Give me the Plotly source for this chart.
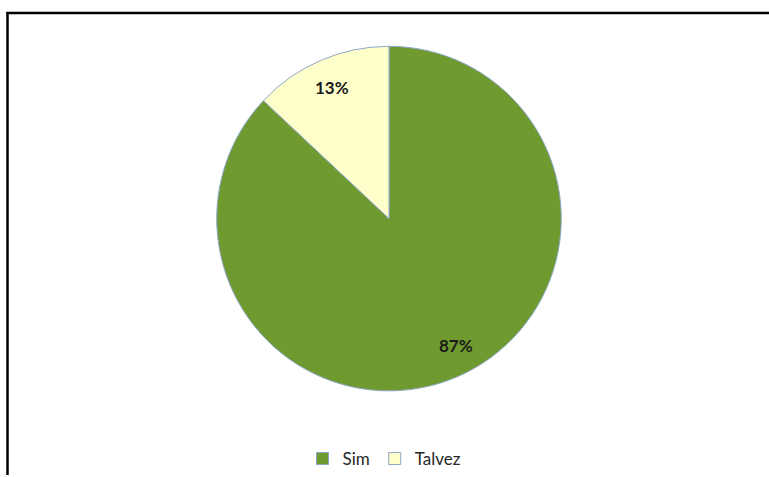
import math
import plotly.graph_objects as go

categories = ["Sim", "Talvez"]
values = [87, 13]
colors = ["#6E9A2F", "#FFFFCC"]

W, H = 769, 477
FONT = "Lato, Open Sans, sans-serif"

# pie geometry (pixels in the page)
cx, cy, R = 389, 219.5, 173

fig = go.Figure(go.Pie(
    labels=categories,
    values=values,
    sort=False,
    direction="clockwise",
    rotation=0,
    marker=dict(colors=colors, line=dict(color="#8EA7C8", width=1)),
    textinfo="none",
    domain=dict(x=[(cx - R) / W, (cx + R) / W], y=[1 - (cy + R) / H, 1 - (cy - R) / H]),
    hoverinfo="label+percent",
))

# percentage labels placed along each slice's mid-angle, as Excel does
total = sum(values)
annotations = []
start = 0.0
for v in values:
    mid = (start + v / 2) / total * 2 * math.pi
    start += v
    big = v / total > 0.5
    r = (0.80 if big else 0.83) * R
    px = cx + r * math.sin(mid) + (12 if big else 0)
    py = cy - r * math.cos(mid)
    annotations.append(dict(
        x=px / W, y=1 - py / H, xref="paper", yref="paper",
        text=f"<b>{round(100 * v / total)}%</b>", showarrow=False,
        xanchor="center", yanchor="middle",
        font=dict(family=FONT, size=17, color="#1a1a1a"),
    ))

fig.update_layout(
    width=W, height=H,
    margin=dict(l=0, r=0, t=0, b=0),
    paper_bgcolor="white",
    plot_bgcolor="white",
    showlegend=True,
    annotations=annotations,
    legend=dict(
        orientation="h",
        x=0.5, xanchor="center",
        y=1 - 461 / H, yanchor="middle",
        font=dict(family=FONT, size=17, color="#262626"),
        itemwidth=30,
        traceorder="normal",
    ),
    shapes=[
        dict(type="line", xref="paper", yref="paper", x0=6.5 / W, x1=1, y0=1 - 13 / H, y1=1 - 13 / H,
             line=dict(color="black", width=2.5)),
        dict(type="line", xref="paper", yref="paper", x0=7.5 / W, x1=7.5 / W, y0=0, y1=1 - 12 / H,
             line=dict(color="black", width=2.5)),
    ],
)

fig.write_html("out.html", config={"displayModeBar": False},
               post_script="document.body.style.margin='0';document.body.style.overflow='hidden';")
